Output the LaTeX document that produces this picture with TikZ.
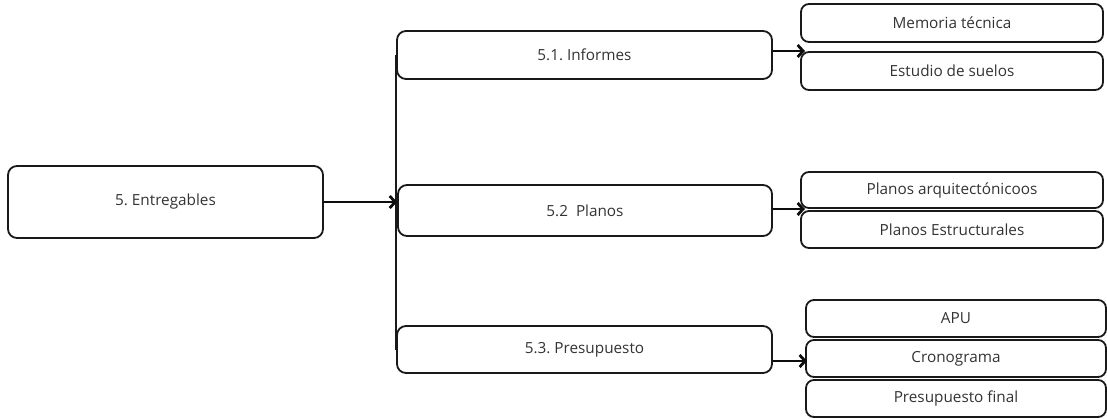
\documentclass[tikz,border=0pt]{standalone}
\usepackage{fontspec}
\setmainfont{Open Sans}
\usetikzlibrary{arrows.meta}
\frenchspacing
\begin{document}
\begin{tikzpicture}[x=1pt,y=-1pt,
  box/.style={draw=black!90, line width=1.8pt, rounded corners=9pt, rectangle,
    inner sep=0pt, text=black!80, font=\fontsize{15.3}{18}\selectfont\frenchspacing},
  sbox/.style={box, rounded corners=8pt},
  arr/.style={line width=2.8pt, -{Straight Barb[length=5.5pt,width=12pt]}, black!95},
  trunk/.style={line width=1.6pt, black!90}]
\useasboundingbox (0,0) rectangle (1107,418);
\node[box, minimum width=315pt, minimum height=72pt] (E) at (165.5,202) {5. Entregables};
\node[box, minimum width=375pt, minimum height=48pt] (I) at (584.5,55) {5.1. Informes};
\node[box, minimum width=374pt, minimum height=51pt] (P) at (585,210.5) {5.2\ \ Planos};
\node[box, minimum width=375pt, minimum height=47pt] (S) at (584.5,349.5) {5.3. Presupuesto};
\node[sbox, minimum width=302pt, minimum height=38pt] (M) at (952,23) {Memoria técnica};
\node[sbox, minimum width=302pt, minimum height=38pt] (ES) at (952,71) {Estudio de suelos};
\node[sbox, minimum width=302pt, minimum height=36pt] (PA) at (952,190) {Planos arquitectónicoos};
\node[sbox, minimum width=302pt, minimum height=37pt] (PE) at (952,229.5) {Planos Estructurales};
\node[sbox, minimum width=300pt, minimum height=37pt] (APU) at (956,318.5) {APU};
\node[sbox, minimum width=300pt, minimum height=37pt] (CR) at (956,358.5) {Cronograma};
\node[sbox, minimum width=300pt, minimum height=37pt] (PF) at (956,398.5) {Presupuesto final};
\draw[trunk] (I.west) -- (S.west);
\coordinate (a1) at (805,51);
\coordinate (a2) at (805,209);
\coordinate (a3) at (807,361);
\draw[arr] (E.east) -- (E.east -| P.west);
\draw[arr] (I.east |- a1) -- (a1);
\draw[arr] (P.east |- a2) -- (a2);
\draw[arr] (S.east |- a3) -- (a3);
\end{tikzpicture}
\end{document}
